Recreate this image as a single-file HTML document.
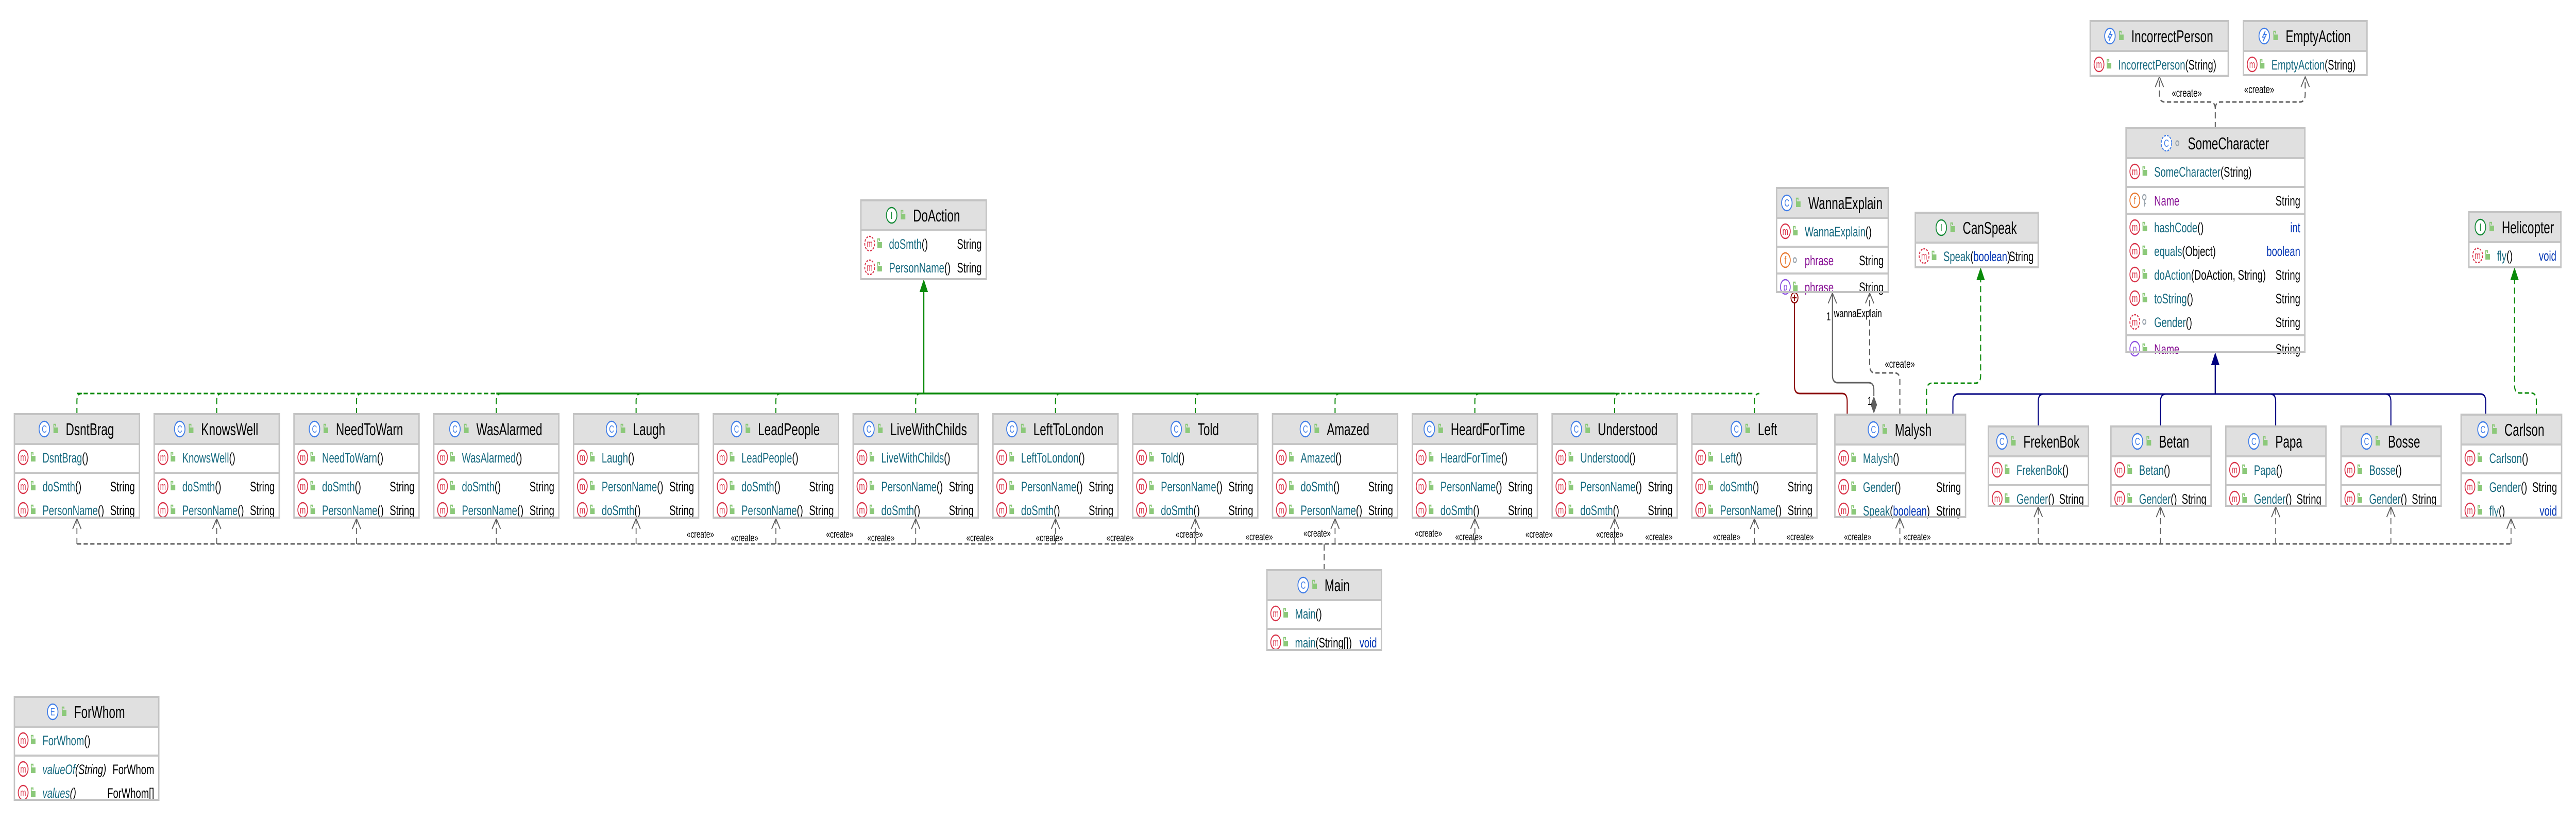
<!DOCTYPE html>
<html><head><meta charset="utf-8">
<style>
html,body{margin:0;padding:0;background:#fff;overflow:hidden;width:100%;height:100%;}
svg{display:block;width:100vw;height:100vh;}
text{font-family:"Liberation Sans",sans-serif;}
</style></head>
<body>
<svg id="s" xmlns="http://www.w3.org/2000/svg" viewBox="0 0 7334 1594" preserveAspectRatio="none"></svg>
<script>
const S=document.getElementById('s');
let out='';
const TEAL='#16697f',BLUE='#0033b3',PURP='#871094';
function esc(t){return t.replace(/&/g,'&amp;').replace(/</g,'&lt;');}
function icon(kind,cx,cy){
  let c={C:'#3f7de8',Cd:'#3f7de8',I:'#138a36',E:'#3f7de8',X:'#3f7de8',m:'#d93349',md:'#d93349',f:'#e8772e',p:'#8c4fe0'}[kind];
  let dash=(kind=='md'||kind=='Cd')?' stroke-dasharray="5 3"':'';
  let r=kind.length&&'CIEX'.includes(kind[0])&&kind!='md'?15:14;
  let s=`<circle cx="${cx}" cy="${cy}" r="${r}" fill="#fff" stroke="${c}" stroke-width="2.5"${dash}/>`;
  let L={C:'C',Cd:'C',I:'I',E:'E',m:'m',md:'m',f:'f',p:'p'}[kind];
  if(kind=='X'){s+=`<path d="M${cx+3} ${cy-10} L${cx-5} ${cy+2} L${cx+1} ${cy+2} L${cx-3} ${cy+10} L${cx+6} ${cy-3} L${cx} ${cy-3} Z" fill="none" stroke="${c}" stroke-width="2"/>`;}
  else s+=`<text x="${cx}" y="${cy+7}" text-anchor="middle" font-size="20" fill="${c}">${L}</text>`;
  return s;
}
function acc(kind,cx,cy){
  if(kind=='dot')return `<circle cx="${cx}" cy="${cy}" r="4.5" fill="none" stroke="#9aa4ad" stroke-width="2.5"/>`;
  if(kind=='key')return `<circle cx="${cx}" cy="${cy-6}" r="5" fill="none" stroke="#9aa4ad" stroke-width="2.5"/><path d="M${cx} ${cy-1} V${cy+12} M${cx} ${cy+6} H${cx+4}" stroke="#9aa4ad" stroke-width="2.5"/>`;
  return `<rect x="${cx-5}" y="${cy-3}" width="13" height="11" fill="#8cc97a"/><path d="M${cx-4} ${cy-3} V${cy-9} H${cx+1} V${cy-5}" fill="none" stroke="#8cc97a" stroke-width="2.5"/>`;
}
function nameSpans(n,col,it){
  let i=n.indexOf('(');
  let a=i<0?n:n.slice(0,i), b=i<0?'':n.slice(i);
  let s=`<tspan fill="${col}"${it?' font-style="italic"':''}>${esc(a)}</tspan>`;
  if(b){
    b.split(/(boolean|int)/).forEach(p=>{ if(!p)return;
      s+=`<tspan fill="${(p=='boolean'||p=='int')?BLUE:'#000'}"${it?' font-style="italic"':''}>${esc(p)}</tspan>`;});
  }
  return s;
}
function box(o){
  const {x,y,w,b}=o; const r=x+w;
  out+=`<rect x="${x}" y="${y}" width="${w}" height="${b-y}" fill="#fff"/>`;
  out+=`<rect x="${x}" y="${y}" width="${w}" height="58" fill="#e0e0e0"/>`;
  out+=`<g class="hd" data-cx="${x+w/2}" data-y="${y}">`+
   `<text class="ht" x="${x+w/2}" y="${y+41}" font-size="33" fill="#000">${esc(o.name)}</text>`+
   `<g class="hi">${icon(o.t,0,y+29)}${acc(o.acc||'lock',31,y+29)}</g></g>`;
  let top=y+58;
  o.secs.forEach((sec,si)=>{
    out+=`<line x1="${x}" y1="${top}" x2="${r}" y2="${top}" stroke="#c6c6c6" stroke-width="4"/>`;
    sec.forEach((rw,i)=>{
      const cy=top+26+46*i; if(cy>b-5)return;
      out+=icon(rw[0],x+25,cy)+acc(rw[1],x+52,cy);
      out+=`<text x="${x+80}" y="${cy+10}" font-size="27">${nameSpans(rw[2],rw[5]||TEAL,rw[4])}</text>`;
      if(rw[3]){let tc=(rw[3]=='int'||rw[3]=='boolean'||rw[3]=='void')?BLUE:'#000';
        out+=`<text x="${r-13}" y="${cy+10}" font-size="27" text-anchor="end" fill="${tc}">${esc(rw[3])}</text>`;}
    });
    top+= (si==0?56:46*sec.length+6);
  });
  out+=`<rect x="${x}" y="${y}" width="${w}" height="${b-y}" fill="none" stroke="#c3c3c3" stroke-width="4"/>`;
}
const DS=['m','lock','doSmth()','String'], PN=['m','lock','PersonName()','String'];
const row=[['DsntBrag',0],['KnowsWell',0],['NeedToWarn',0],['WasAlarmed',0],['Laugh',1],['LeadPeople',0],['LiveWithChilds',1],['LeftToLondon',1],['Told',1],['Amazed',0],['HeardForTime',1],['Understood',1],['Left',0]];
const centers=[];
row.forEach((r,i)=>{const x=41+398*i; centers.push(x+178);
  box({x,y:804,w:356,b:1005,t:'C',name:r[0],secs:[[['m','lock',r[0]+'()']],r[1]?[PN,DS]:[DS,PN]]});});
box({x:5224,y:805,w:372,b:1004,t:'C',name:'Malysh',secs:[[['m','lock','Malysh()']],[['m','lock','Gender()','String'],['m','lock','Speak(boolean)','String']]]});
[['FrekenBok',5661],['Betan',6010],['Papa',6337],['Bosse',6665]].forEach(a=>box({x:a[1],y:828,w:285,b:982,t:'C',name:a[0],secs:[[['m','lock',a[0]+'()']],[['m','lock','Gender()','String']]]}));
box({x:7007,y:805,w:286,b:1005,t:'C',name:'Carlson',secs:[[['m','lock','Carlson()']],[['m','lock','Gender()','String'],['m','lock','fly()','void']]]});
box({x:7029,y:412,w:262,b:519,t:'I',name:'Helicopter',secs:[[['md','lock','fly()','void']]]});
box({x:5453,y:413,w:350,b:519,t:'I',name:'CanSpeak',secs:[[['md','lock','Speak(boolean)','String']]]});
box({x:5058,y:365,w:318,b:567,t:'C',name:'WannaExplain',secs:[[['m','lock','WannaExplain()']],[['f','dot','phrase','String',0,PURP]],[['p','lock','phrase','String',0,PURP]]]});
box({x:2451,y:389,w:357,b:542,t:'I',name:'DoAction',secs:[[['md','lock','doSmth()','String'],['md','lock','PersonName()','String']]]});
box({x:6053,y:249,w:509,b:683,t:'Cd',acc:'dot',name:'SomeCharacter',secs:[[['m','lock','SomeCharacter(String)']],[['f','key','Name','String',0,PURP]],[['m','lock','hashCode()','int'],['m','lock','equals(Object)','boolean'],['m','lock','doAction(DoAction, String)','String'],['m','lock','toString()','String'],['md','dot','Gender()','String']],[['p','lock','Name','String',0,PURP]]]});
box({x:5951,y:41,w:393,b:147,t:'X',name:'IncorrectPerson',secs:[[['m','lock','IncorrectPerson(String)']]]});
box({x:6387,y:41,w:352,b:146,t:'X',name:'EmptyAction',secs:[[['m','lock','EmptyAction(String)']]]});
box({x:3607,y:1107,w:326,b:1262,t:'C',name:'Main',secs:[[['m','lock','Main()']],[['m','lock','main(String[])','void']]]});
box({x:41,y:1353,w:411,b:1553,t:'E',name:'ForWhom',secs:[[['m','lock','ForWhom()']],[['m','lock','valueOf(String)','ForWhom',1],['m','lock','values()','ForWhom[]',1]]]});

let c='';
const G='#0a8a0a',GR='#5f5f5f',NV='#000080';
function path(d,col,w,dash){c+=`<path d="${d}" fill="none" stroke="${col}" stroke-width="${w}"${dash?` stroke-dasharray="${dash}"`:''}/>`;}
function tri(x,y,col){c+=`<path d="M${x} ${y} L${x-12} ${y+25} L${x+12} ${y+25} Z" fill="${col}"/>`;}
function open(x,y){path(`M${x-12} ${y+22} L${x} ${y+2} L${x+12} ${y+22}`,GR,2.5);}
centers.forEach(cx=>path(`M${cx} 804 V778 Q${cx} 764 ${cx+14} 764`,G,3,'12 7'));
path(`M219 764 H1413`,G,3,'12 7'); path(`M1413 764 H4597`,G,3.5); path(`M4597 764 H4995`,G,3,'12 7');
path(`M2630 764 V567`,G,3.5); tri(2630,542,G);
path(`M5560 805 V780 Q5560 765 5575 765 H7062 Q7077 765 7077 780 V805`,NV,3);
[5803,6151,6479,6807].forEach(x=>path(`M${x} 828 V780 Q${x} 765 ${x+(x<6307?15:-15)} 765`,NV,3));
path(`M6307 765 V709`,NV,3.5); tri(6307,684,NV);
path(`M5485 805 V760 Q5485 744 5500 744 H5624 Q5639 744 5639 729 V544`,G,3,'12 7'); tri(5639,519,G);
path(`M7221 805 V778 Q7221 763 7206 763 H7174 Q7159 763 7159 748 V544`,G,3,'12 7'); tri(7159,519,G);
path(`M5109 588 V750 Q5109 764 5124 764 H5245 Q5259 764 5259 779 V805`,'#8b0000',3);
c+=`<circle cx="5109" cy="578" r="10" fill="#fff" stroke="#8b0000" stroke-width="2.5"/><path d="M5103 578 H5115 M5109 572 V584" stroke="#8b0000" stroke-width="2.5"/>`;
path(`M5335 769 V757 Q5335 743 5320 743 H5232 Q5217 743 5217 728 V569`,GR,3); open(5217,567);
c+=`<path d="M5335 769 L5344 786 L5335 803 L5326 786 Z" fill="${GR}"/>`;
c+=`<text x="5200" y="622" font-size="22">1</text><text x="5221" y="616" font-size="22">wannaExplain</text><text x="5317" y="786" font-size="22">1</text>`;
path(`M5409 805 V738 Q5409 724 5394 724 H5338 Q5323 724 5323 709 V569`,GR,3,'12 7'); open(5323,567);
c+=`<text x="5409" y="714" font-size="22" text-anchor="middle">«create»</text>`;
path(`M6307 249 V212 Q6307 198 6292 198 H6163 Q6148 198 6148 183 V149`,GR,3,'12 7'); open(6148,147);
path(`M6307 212 Q6307 198 6322 198 H6548 Q6563 198 6563 183 V149`,GR,3,'12 7'); open(6563,147);
c+=`<text x="6226" y="188" font-size="22" text-anchor="middle">«create»</text><text x="6432" y="181" font-size="22" text-anchor="middle">«create»</text>`;
path(`M219 1056 H7149`,GR,3,'12 7'); path(`M3770 1107 V1056`,GR,3,'12 7');
const deps=centers.map(x=>[x,1005]).concat([[5409,1004],[5803,982],[6151,982],[6479,982],[6807,982],[7149,1005]]);
deps.forEach(d=>{path(`M${d[0]} 1056 V${d[1]+2}`,GR,2.5,'12 7'); open(d[0],d[1]);});
[[1994,1037],[2120,1044],[2391,1037],[2508,1044],[2790,1044],[2988,1044],[3189,1044],[3386,1037],[3585,1042],[3750,1035],[4067,1035],[4182,1042],[4382,1037],[4583,1037],[4723,1042],[4916,1042],[5125,1042],[5289,1042],[5458,1042]].forEach(l=>{
  c+=`<text x="${l[0]}" y="${l[1]+7}" font-size="20" text-anchor="middle">«create»</text>`;});
S.innerHTML=c+out;
document.querySelectorAll('g.hd').forEach(g=>{
  const t=g.querySelector('.ht'), w=t.getComputedTextLength(), cx=+g.dataset.cx;
  const ts=cx-(w+74)/2+74;
  t.setAttribute('x',ts);
  g.querySelector('.hi').setAttribute('transform',`translate(${ts-61},0)`);
});
</script>
</body></html>
